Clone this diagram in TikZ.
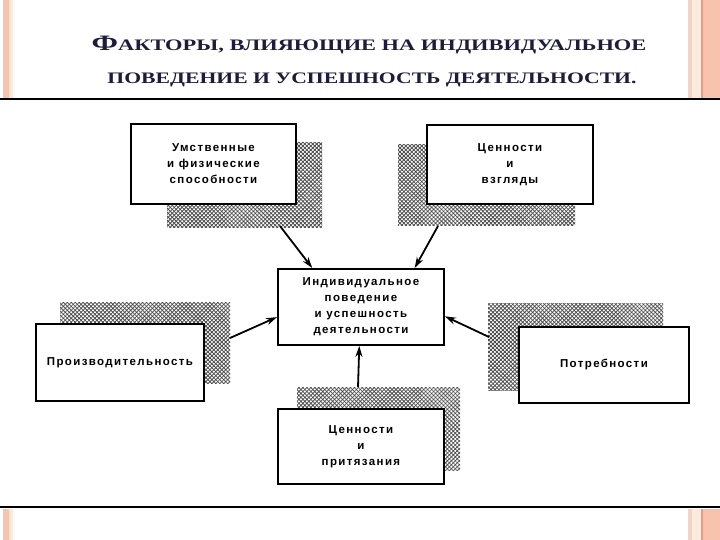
\documentclass[tikz,border=0pt]{standalone}
\usepackage{graphicx}
\usepackage{fontspec}
\setmainfont{Liberation Serif}
\newfontfamily\boxfont[LetterSpace=12]{Liberation Sans}
\usetikzlibrary{patterns.meta,arrows.meta,calc}
\definecolor{stripepink}{HTML}{F8C3AC}
\definecolor{stripecream}{HTML}{FCEBDC}
\definecolor{stripetan}{HTML}{F1D5C3}
\definecolor{stripeorange}{HTML}{EE9C7C}
\definecolor{titlecol}{HTML}{1C1C3C}
\tikzset{
  shadowbox/.style={anchor=north west, inner sep=0pt, outer sep=0pt,
    pattern={Lines[angle=45,distance=2.8pt,line width=0.8pt]}, pattern color=black!70,
    postaction={pattern={Lines[angle=-45,distance=2.8pt,line width=0.8pt]}, pattern color=black!70}},
  factor/.style={draw, line width=1.9pt, fill=white, anchor=north west, inner sep=0pt,
    align=center, font=\boxfont\bfseries\fontsize{11.5}{16}\selectfont},
  arr/.style={line width=1.8pt, -{Stealth[length=11pt,width=7pt]}}
}
\begin{document}
\begin{tikzpicture}[x=1pt,y=-1pt]
\useasboundingbox (0,0) rectangle (720,540);
\fill[white] (0,0) rectangle (720,540);
% stripes
\foreach \ya/\yb in {0/98,509/540}{
  \fill[stripepink] (3,\ya) rectangle (9,\yb);
  \fill[stripecream] (9,\ya) rectangle (13,\yb);
  \fill[stripetan] (688,\ya) rectangle (692,\yb);
  \fill[stripecream] (692,\ya) rectangle (701,\yb);
  \fill[stripeorange] (701,\ya) rectangle (703,\yb);
  \fill[stripepink] (703,\ya) rectangle (720,\yb);
}
\draw[line width=2pt] (0,99) -- (720,99);
\draw[line width=2pt] (0,507) -- (720,507);
% title
\node[anchor=base, text=titlecol, inner sep=0pt] (t1) at (369,51)
  {\scalebox{1.4}[1]{\bfseries{\fontsize{22}{22}\selectfont Ф}\fontsize{16}{16}\selectfont АКТОРЫ, ВЛИЯЮЩИЕ НА ИНДИВИДУАЛЬНОЕ}};
\node[anchor=base, text=titlecol, inner sep=0pt] (t2) at (372,84)
  {\scalebox{1.355}[1]{\bfseries\fontsize{16}{16}\selectfont ПОВЕДЕНИЕ И УСПЕШНОСТЬ ДЕЯТЕЛЬНОСТИ.}};
% shadows
\node[shadowbox, minimum width=155pt, minimum height=85pt] (s1) at (167,143) {};
\node[shadowbox, minimum width=177pt, minimum height=81pt] (s2) at (398,145) {};
\node[shadowbox, minimum width=170pt, minimum height=81pt] (s3) at (60,302) {};
\node[shadowbox, minimum width=175pt, minimum height=87pt] (s4) at (488,303) {};
\node[shadowbox, minimum width=163pt, minimum height=83pt] (s5) at (297,387) {};
% boxes
\node[factor, minimum width=165pt, minimum height=80pt] (abil) at (130,123) {Умственные\\и физические\\способности};
\node[factor, minimum width=166pt, minimum height=79pt] (val) at (426,124) {Ценности\\и\\взгляды};
\node[factor, minimum width=166pt, minimum height=76pt] (ctr) at (277,268) {Индивидуальное\\поведение\\и успешность\\деятельности};
\node[factor, minimum width=168pt, minimum height=77pt] (prod) at (35,323) {Производительность};
\node[factor, minimum width=170pt, minimum height=76pt] (need) at (518,326) {Потребности};
\node[factor, minimum width=166pt, minimum height=75pt] (asp) at (277,408) {Ценности\\и\\притязания};
% arrows
\coordinate (a1) at (280,226);
\coordinate (a2) at (438,226);
\coordinate (a3) at (230,338);
\coordinate (a4) at (489,337);
\coordinate (a5) at (358,387);
\draw[arr] (a1) -- ($(ctr.north west)!0.21!(ctr.north east)$);
\draw[arr] (a2) -- ($(ctr.north west)!0.82!(ctr.north east)$);
\draw[arr] (a3) -- ($(ctr.north west)!0.63!(ctr.south west)$);
\draw[arr] (a4) -- ($(ctr.north east)!0.62!(ctr.south east)$);
\draw[arr] (a5) -- ($(ctr.south west)!0.49!(ctr.south east)$);
\end{tikzpicture}
\end{document}
